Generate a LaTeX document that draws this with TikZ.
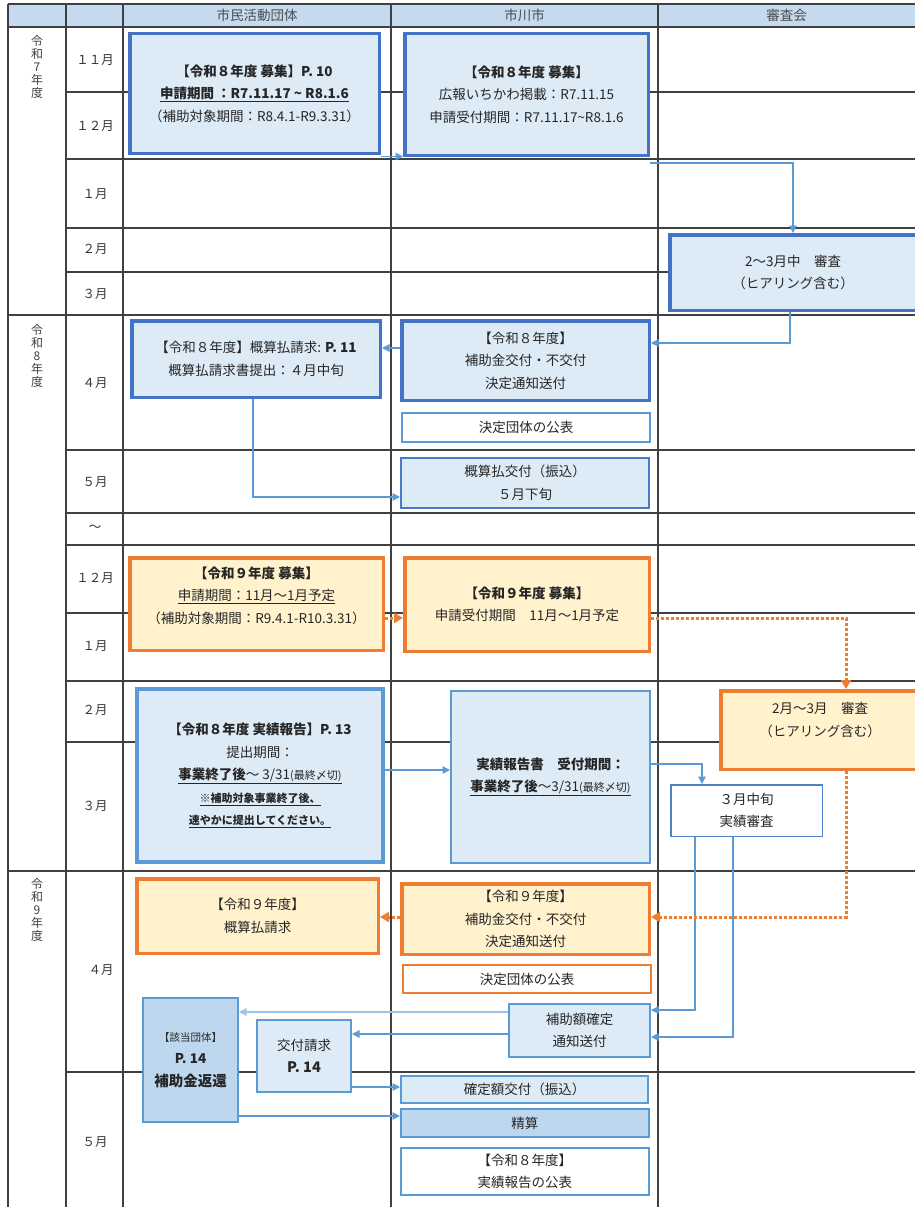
\documentclass[tikz,border=0pt]{standalone}
\usepackage{fontspec}
\setmainfont{Noto Sans CJK JP}
\usetikzlibrary{arrows.meta,calc}
\definecolor{hdr}{HTML}{C5DAEF}
\definecolor{dblue}{HTML}{4472C4}
\definecolor{mblue}{HTML}{5B9BD5}
\definecolor{lfill}{HTML}{DDEBF7}
\definecolor{mfill}{HTML}{BDD7EE}
\definecolor{orng}{HTML}{ED7D31}
\definecolor{ofill}{HTML}{FFF2CC}
\definecolor{lline}{HTML}{9DC3E6}
\definecolor{gridc}{HTML}{404040}
\newcommand\fs[1]{\fontsize{#1}{22.5}\selectfont}
\begin{document}
\begin{tikzpicture}[x=1pt,y=-1pt,
  gridline/.style={draw=gridc, line width=1.1pt},
  txt/.style={inner sep=0pt, align=center, text=black!85, font=\fs{13.5}},
  hdrtxt/.style={inner sep=0pt, text=black!70, font=\fs{13.5}},
  mon/.style={inner sep=0pt, text=black!80, font=\fs{12.5}},
  yr/.style={inner sep=0pt, align=center, text=black!75, font=\fontsize{12}{13}\selectfont},
  bx/.style={rectangle, inner sep=0pt, align=center, text=black!85, font=\fs{13.5}},
  bthick/.style={bx, draw=dblue, fill=lfill, line width=3.5pt},
  bmed/.style={bx, draw=mblue, fill=lfill, line width=2pt},
  bwhite/.style={bx, draw=mblue, fill=white, line width=1.8pt},
  bdeep/.style={bx, draw=mblue, fill=mfill, line width=2pt},
  othick/.style={bx, draw=orng, fill=ofill, line width=3.5pt},
  owhite/.style={bx, draw=orng, fill=white, line width=2pt},
  conn/.style={draw=mblue, line width=1.2pt, -{Triangle[length=7.5pt,width=7.5pt]}},
  odot/.style={draw=orng, line width=3pt, dash pattern=on 3pt off 2pt, -{Triangle[length=9pt,width=10pt]}}
]
\useasboundingbox (0,0) rectangle (915,1207);
\clip (0,0) rectangle (915,1207);
% header
\fill[hdr] (8,4) rectangle (915,27);
\foreach \yy in {4,27,315,871} \draw[gridline] (8,\yy) -- (915,\yy);
\foreach \yy in {92,159,228,272,450,513,545,613,681,742,1072} \draw[gridline] (66,\yy) -- (915,\yy);
\foreach \xx in {8,66,123,391,658} \draw[gridline] (\xx,4) -- (\xx,1207);
\node[hdrtxt] (h1) at (257,15.5) {市民活動団体};
\node[hdrtxt] (h2) at (524.5,15.5) {市川市};
\node[hdrtxt] (h3) at (786.5,15.5) {審査会};
% years
\node[yr] (y7) at (37,67) {令\\和\\7\\年\\度};
\node[yr] (y8) at (37,356) {令\\和\\8\\年\\度};
\node[yr] (y9) at (37,910) {令\\和\\9\\年\\度};
% months
\node[mon] (m1) at (95,60) {１１月};
\node[mon] (m2) at (95,126) {１２月};
\node[mon] (m3) at (95,194) {１月};
\node[mon] (m4) at (95,249) {２月};
\node[mon] (m5) at (95,294) {３月};
\node[mon] (m6) at (95,383) {４月};
\node[mon] (m7) at (95,482) {５月};
\node[mon] (m8) at (95,528) {～};
\node[mon] (m9) at (95,578) {１２月};
\node[mon] (m10) at (95,646) {１月};
\node[mon] (m11) at (95,710) {２月};
\node[mon] (m12) at (95,806) {３月};
\node[mon] (m13) at (101,970) {４月};
\node[mon] (m14) at (95,1142) {５月};
% boxes
\node[bthick, minimum width=249.5, minimum height=119.5] (A) at (254.5,93.5)
  {\textbf{【令和８年度 募集】P. 10}\\\underline{\textbf{申請期間 ：R7.11.17 \textasciitilde{} R8.1.6}}\\（補助対象期間：R8.4.1-R9.3.31）};
\node[bthick, minimum width=243.5, minimum height=121.5] (B) at (526.5,94.5)
  {\textbf{【令和８年度 募集】}\\広報いちかわ掲載：R7.11.15\\申請受付期間：R7.11.17\textasciitilde{}R8.1.6};
\node[bthick, minimum width=246.5, minimum height=75.5] (C) at (793,272.5)
  {2～3月中　審査\\（ヒアリング含む）};
\node[bthick, minimum width=248.5, minimum height=76.5] (D) at (256,359)
  {【令和８年度】概算払請求: \textbf{P. 11}\\概算払請求書提出：４月中旬};
\node[bthick, minimum width=247.5, minimum height=79.5] (E) at (525.5,360.5)
  {【令和８年度】\\補助金交付・不交付\\決定通知送付};
\node[bwhite, minimum width=248.5, minimum height=29.5] (F) at (526,427.5) {決定団体の公表};
\node[bmed, draw=dblue!80!mblue, minimum width=248, minimum height=50] (G) at (525,483)
  {概算払交付（振込）\\５月下旬};
\node[othick, minimum width=253.5, minimum height=92.5] (H) at (256.5,604) {};
\node[txt] (Ht) at (256.5,595.5)
  {\textbf{【令和９年度 募集】}\\\underline{申請期間：11月～1月予定}\\（補助対象期間：R9.4.1-R10.3.31）};
\node[othick, minimum width=244.5, minimum height=93.5] (I) at (527,604.5)
  {\textbf{【令和９年度 募集】}\\申請受付期間　11月～1月予定};
\node[othick, minimum width=198.5, minimum height=78.5] (J) at (820,730) {};
\node[txt] (Jt) at (820,720) {2月～3月　審査\\（ヒアリング含む）};
\node[bmed, line width=4pt, minimum width=246, minimum height=173] (K) at (260,775.5)
  {\textbf{【令和８年度 実績報告】P. 13}\\提出期間：\\\underline{\textbf{事業終了後}～ 3/31{\fontsize{11}{12}\selectfont(最終〆切)}}\\
   {\fontsize{11}{12}\selectfont\bfseries\underline{※補助対象事業終了後、}}\\
   {\fontsize{11}{12}\selectfont\bfseries\underline{速やかに提出してください。}}};
\node[bmed, minimum width=199, minimum height=172] (L) at (550.5,777)
  {\textbf{実績報告書　受付期間：}\\\underline{\textbf{事業終了後}～3/31{\fontsize{11}{12}\selectfont(最終〆切)}}};
\node[bwhite, draw=dblue!60!mblue, line width=1.5pt, minimum width=151.5, minimum height=51.5] (M) at (746.5,810.5)
  {３月中旬\\実績審査};
\node[othick, minimum width=247.5, minimum height=70.5] (O) at (525.5,919)
  {【令和９年度】\\補助金交付・不交付\\決定通知送付};
\node[othick, minimum width=241.5, minimum height=74.5] (P) at (257.5,916)
  {【令和９年度】\\概算払請求};
\node[owhite, minimum width=248, minimum height=28] (Q) at (527,979) {決定団体の公表};
\node[bmed, minimum width=141, minimum height=53] (N) at (579.5,1030.5)
  {補助額確定\\通知送付};
\node[bdeep, minimum width=95, minimum height=124] (R) at (190.5,1060)
  {{\fontsize{10.5}{12}\selectfont【該当団体】}\\\textbf{P. 14}\\{\fontsize{14.5}{15}\selectfont\bfseries 補助金返還}};
\node[bmed, minimum width=94, minimum height=72] (S) at (304,1056)
  {交付請求\\{\fontsize{14.5}{15}\selectfont\bfseries P. 14}};
\node[bmed, minimum width=247, minimum height=27] (T) at (524.5,1089.5) {確定額交付（振込）};
\node[bdeep, minimum width=247.5, minimum height=28] (U) at (524.75,1123) {精算};
\node[bwhite, line width=2pt, minimum width=247.5, minimum height=47] (V) at (524.75,1171.5)
  {【令和８年度】\\実績報告の公表};
% connectors
\draw[conn] ([yshift=-1.5pt]A.south east) -- ([yshift=-1.5pt]A.south east -| B.west);
\draw[conn] ([yshift=-6pt]B.south east) -| (C.north);
\draw[conn] ([xshift=-3pt]C.south) |- ([yshift=17.5pt]E.east);
\draw[conn] ([yshift=12.5pt]E.west) -- ([yshift=12.5pt]E.west -| D.east);
\draw[conn] ([xshift=-3pt]D.south) |- ([yshift=-14pt]G.west);
\draw[odot] ([yshift=-14pt]H.east) -- ([yshift=-14pt]H.east -| I.west);
\draw[odot] ([yshift=-13.5pt]I.east) -| ([xshift=26pt]J.north);
\draw[conn] ([yshift=5.5pt]K.east) -- ([yshift=5.5pt]K.east -| L.west);
\draw[conn] ([yshift=13pt]L.east) -| ([xshift=-44.5pt]M.north);
\draw[conn] ([xshift=-51.5pt]M.south) |- ([yshift=20.5pt]N.east);
\draw[conn] ([xshift=-13.5pt]M.south) |- ([yshift=-6.5pt]N.east);
\draw[odot] ([xshift=26pt]J.south) |- ([yshift=2pt]O.east);
\draw[odot] ([yshift=2pt]O.west) -- ([yshift=2pt]O.west -| P.east);
\draw[conn, draw=lline] ([yshift=18.5pt]N.west) -- ([yshift=18.5pt]N.west -| R.east);
\draw[conn] ([yshift=-3.5pt]N.west) -- ([yshift=-3.5pt]N.west -| S.east);
\draw[conn] ([yshift=2.5pt]T.west -| S.east) -- ([yshift=2.5pt]T.west);
\draw[conn] ([yshift=7pt]U.west -| R.east) -- ([yshift=7pt]U.west);
\end{tikzpicture}
\end{document}
